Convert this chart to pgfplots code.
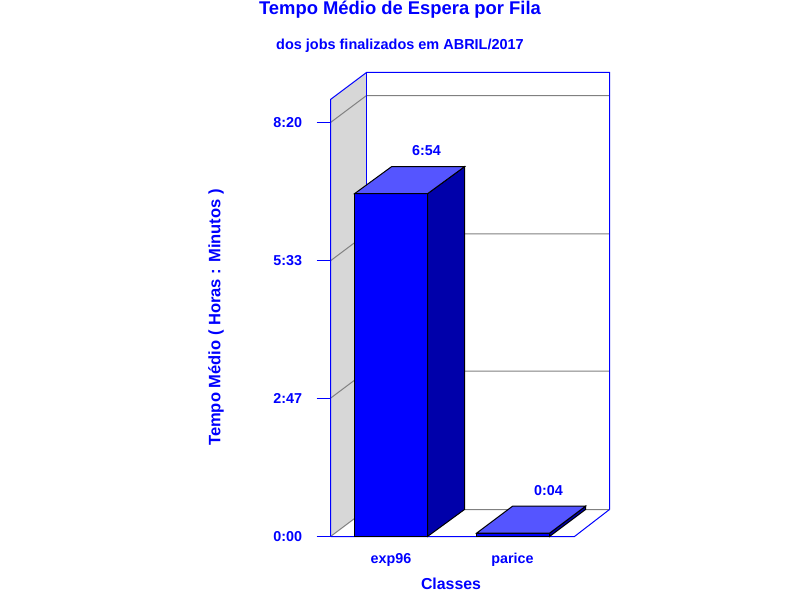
\documentclass[border=0pt]{standalone}
\usepackage{fontspec}
\setmainfont{Liberation Sans}
\usepackage{pgfplots}
\pgfplotsset{compat=1.18}

% 1 px of the reference = 0.75pt; x is in px, y in minutes (depth = 36 px, 32.6 min)
\definecolor{wallgray}{RGB}{215,215,215}
\definecolor{gridgray}{RGB}{128,128,128}
\definecolor{barside}{RGB}{0,0,170}
\definecolor{bartop}{RGB}{85,85,255}

\pgfplotsset{
	frame/.style={color=blue, line width=0.75pt, no markers},
	back/.style={color=gridgray, line width=0.75pt, no markers},
	face/.style={draw=black, line width=0.75pt, no markers, fill=#1},
}

\begin{document}
\begin{tikzpicture}
\path[use as bounding box, fill=white] (0,0) rectangle (600pt,450pt);

\begin{axis}[
	at={(247.875pt,47.625pt)},
	anchor=south west,
	scale only axis,
	width=209.25pt,
	height=348pt,
	xmin=330, xmax=609,
	ymin=0, ymax=560.4,
	clip=false,
	axis line style={draw=none},
	axis y line*=left,
	axis x line*=bottom,
	xtick={390.5,512},
	xticklabels={exp96,parice},
	ytick={0,167,333,500},
	yticklabels={0:00,2:47,5:33,8:20},
	y tick style={draw=blue, line width=0.75pt},
	x tick style={draw=none},
	major tick length=10.5pt,
	tick align=outside,
	tick label style={font=\fontsize{10.75}{13}\selectfont\bfseries, text=blue},
	xticklabel style={yshift=1.5pt},
	yticklabel style={xshift=-7.25pt},
	every axis title shift=0pt,
	title={Tempo Médio de Espera por Fila},
	title style={font=\fontsize{13.8}{16}\selectfont\bfseries, text=blue,
		at={(axis description cs:0.249,1.136)}, anchor=center},
	xlabel={Classes},
	xlabel style={font=\fontsize{11.9}{14}\selectfont\bfseries, text=blue,
		at={(axis description cs:0.432,-0.101)}, anchor=center},
	ylabel={Tempo Médio ( Horas : Minutos )},
	ylabel style={font=\fontsize{12.4}{14}\selectfont\bfseries, text=blue,
		at={(axis description cs:-0.410,0.472)}, anchor=center, rotate=0},
]

% left wall
\addplot[no markers, draw=none, fill=wallgray] coordinates {
	(330,0) (330,527.8) (366,560.4) (366,32.6)
} -- cycle;

% grid lines, wall and back
\addplot[back] coordinates {(330,0) (366,32.6) (609,32.6)};
\addplot[back] coordinates {(330,167) (366,199.6) (609,199.6)};
\addplot[back] coordinates {(330,333) (366,365.6) (609,365.6)};
\addplot[back] coordinates {(330,500) (366,532.6) (609,532.6)};

% box outline
\addplot[frame] coordinates {(330,0) (330,527.8) (366,560.4) (609,560.4) (609,32.6)};
\addplot[frame] coordinates {(366,560.4) (366,32.6)};
\addplot[frame] coordinates {(330,0) (574,0) (609,32.6)};

% exp96 = 6:54 = 414 min
\addplot[face=blue, ybar, bar width=73] coordinates {(390.5,414)};
\addplot[face=barside] coordinates {(427,0) (427,414) (464,446.6) (464,32.6)} -- cycle;
\addplot[face=bartop] coordinates {(354,414) (391,446.6) (464,446.6) (427,414)} -- cycle;

% parice = 0:04 = 4 min
\addplot[face=blue, ybar, bar width=73] coordinates {(512.5,4)};
\addplot[face=barside] coordinates {(549,0) (549,4) (585,36.6) (585,32.6)} -- cycle;
\addplot[face=bartop] coordinates {(476,4) (512,36.6) (585,36.6) (549,4)} -- cycle;

\node[font=\fontsize{10.75}{13}\selectfont\bfseries, text=blue] at (axis cs:426,466) {6:54};
\node[font=\fontsize{10.75}{13}\selectfont\bfseries, text=blue] at (axis cs:548,56) {0:04};
\node[font=\fontsize{10.85}{13}\selectfont\bfseries, text=blue]
	at (axis description cs:0.249,1.058) {dos jobs finalizados em ABRIL/2017};

\end{axis}
\end{tikzpicture}
\end{document}
